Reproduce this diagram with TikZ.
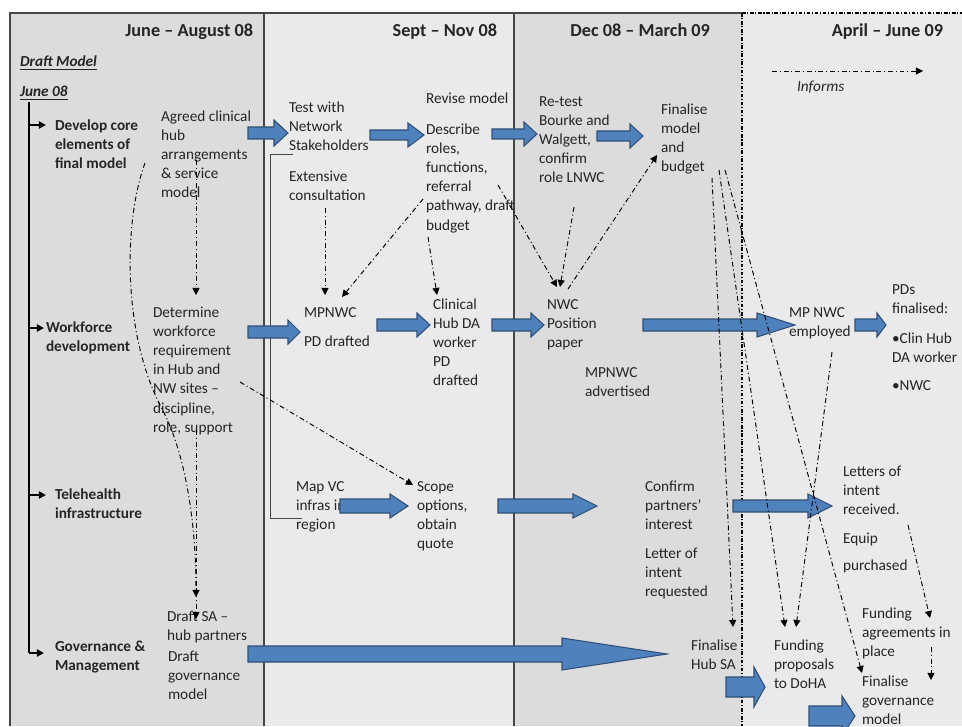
\documentclass[tikz,border=0pt]{standalone}
\usepackage{fontspec}
\setmainfont{Carlito}
\usetikzlibrary{arrows.meta}
\usetikzlibrary{calc}
\definecolor{panedark}{HTML}{DCDCDC}
\definecolor{panelight}{HTML}{EAEAEA}
\definecolor{arrowblue}{HTML}{4F81BD}
\definecolor{arrowedge}{HTML}{2F4F78}
\definecolor{myblack}{HTML}{232527}
\tikzset{every node/.style={inner sep=0pt, outer sep=0pt, align=left, text=myblack, font={\fontsize{8.7}{10.9}\selectfont}}}
% multi-line texts sit on the baseline of their last line: 19.2 per line
\tikzstyle{txt} = [anchor=base west]
\tikzstyle{head} = [anchor=base east, font={\fontsize{10.4}{12}\selectfont\bfseries}]
\tikzstyle{topic} = [anchor=base west, font={\fontsize{8.7}{10.9}\selectfont\bfseries}]
\tikzstyle{informs} = [draw=black, line width=0.55pt, dash pattern=on 2.8pt off 1.6pt on 0.6pt off 1.6pt, -{Triangle[length=4pt,width=4pt]}]
\tikzstyle{tick} = [draw=black, line width=1.1pt, -{Triangle[length=4pt,width=4pt]}]
\tikzstyle{bigarrow} = [fill=arrowblue, draw=arrowedge, line width=0.6pt]
\tikzstyle{border} = [draw=myblack!85, line width=0.6pt]
\tikzstyle{dotborder} = [draw=black, line width=0.6pt, dash pattern=on 2pt off 1pt on 0.6pt off 1pt]

% x1, x2, y, half shaft, half head, head length
\newcommand{\blockarrow}[6]{%
  \draw[bigarrow] (#1,#3-#4) -- (#2-#6,#3-#4) -- (#2-#6,#3-#5) -- (#2,#3)
    -- (#2-#6,#3+#5) -- (#2-#6,#3+#4) -- (#1,#3+#4) -- cycle;}

\begin{document}
\begin{tikzpicture}[x=0.02cm, y=-0.02cm]
    \useasboundingbox (0,0) rectangle (962,726);
    % Panels
    \fill[panedark] (10,13) rectangle (264,726);
    \fill[panelight] (264,13) rectangle (514,726);
    \fill[panedark] (514,13) rectangle (742,726);
    \fill[panelight] (742,13) rectangle (962,726);
    \draw[border] (10,726) -- (10,13) -- (742,13);
    \draw[border] (264,13) -- (264,726);
    \draw[border] (514,13) -- (514,726);
    \draw[dotborder] (742,13) -- (742,726);
    \draw[dotborder] (742,13) -- (962,13);

    % Headers
    \node[head] (hJune) at (253,37) {June – August 08};
    \node[head] (hSept) at (497,37) {Sept – Nov 08};
    \node[head] (hDec) at (710,37) {Dec 08 – March 09};
    \node[head] (hApril) at (943,37) {April – June 09};
    \node[topic] (draftModel) at (20,67) {\textit{\underline{Draft Model}}};
    \node[topic] (june08) at (20,97) {\textit{\underline{June 08}}};

    % Timeline and streams
    \draw[line width=1.2pt] (29,102) -- (29,653);
    \node[topic] (lDevelop) at (55,130+2*19.2) {Develop core\\elements of\\final model};
    \node[topic] (lWork) at (46,332+19.2) {Workforce\\development};
    \node[topic] (lTele) at (55,499+19.2) {Telehealth\\infrastructure};
    \node[topic] (lGov) at (55,651+19.2) {Governance \&\\Management};
    \coordinate (tDevA) at (29,125); \coordinate (tDevB) at (46,125);
    \coordinate (tWorkA) at (29,328); \coordinate (tWorkB) at (44,328);
    \coordinate (tTeleA) at (29,495); \coordinate (tTeleB) at (46,495);
    \coordinate (tGovA) at (29,653); \coordinate (tGovB) at (44,653);
    \draw[tick] (tDevA) -- (tDevB);
    \draw[tick] (tWorkA) -- (tWorkB);
    \draw[tick] (tTeleA) -- (tTeleB);
    \draw[tick] (tGovA) -- (tGovB);

    % June - August
    \node[txt] (agreed) at (161,121+4*19.2) {Agreed clinical\\hub\\arrangements\\\& service\\model};
    \node[txt] (determine) at (153,317+6*19.2) {Determine\\workforce\\requirement\\in Hub and\\NW sites –\\discipline,\\role, support};
    \node[txt] (draftSA) at (167,621+19.2) {Draft SA –\\hub partners};
    \node[txt] (draftGov) at (168,661+2*19.2) {Draft\\governance\\model};

    % Sept - Nov
    \node[txt] (testWith) at (289,112+2*19.2) {Test with\\Network\\Stakeholders};
    \node[txt] (extensive) at (289,181+19.2) {Extensive\\consultation};
    \node[txt] (revise) at (426,104) {Revise model};
    \node[txt] (describe) at (426,134+5*19.2) {Describe\\roles,\\functions,\\referral\\pathway, draft\\budget};
    \node[txt] (mpnwc) at (304,317) {MPNWC};
    \node[txt] (pdDrafted) at (304,346) {PD drafted};
    \node[txt] (clinical) at (433,309+4*19.2) {Clinical\\Hub DA\\worker\\PD\\drafted};
    \node[txt] (mapVC) at (296,491+2*19.2) {Map VC\\infras in\\region};
    \node[txt] (scope) at (417,491+3*19.2) {Scope\\options,\\obtain\\quote};
    \draw[border, line width=0.5pt] (293,154) -- (270,154) -- (270,518) -- (302,518);

    % Dec - March
    \node[txt] (retest) at (539,106+4*19.2) {Re-test\\Bourke and\\Walgett,\\confirm\\role LNWC};
    \node[txt] (finModel) at (661,114+3*19.2) {Finalise\\model\\and\\budget};
    \node[txt] (nwc) at (547,309+2*19.2) {NWC\\Position\\paper};
    \node[txt] (mpAdv) at (585,377+19.2) {MPNWC\\advertised};
    \node[txt] (confirm) at (645,491+2*19.2) {Confirm\\partners’\\interest};
    \node[txt] (letterReq) at (645,558+2*19.2) {Letter of\\intent\\requested};
    \node[txt] (finHub) at (691,650+19.2) {Finalise\\Hub SA};

    % April - June
    \node[txt] (informs) at (797,92) {\textit{Informs}};
    \node[txt] (employed) at (789,317+19.2) {MP NWC\\employed};
    \node[txt] (pds) at (892,294+19.2) {PDs\\finalised:};
    \node[txt] (pdClin) at (892,343+19.2) {•Clin Hub\\DA worker};
    \node[txt] (pdNwc) at (892,390) {•NWC};
    \node[txt] (letters) at (843,476+2*19.2) {Letters of\\intent\\received.};
    \node[txt] (equip) at (843,543) {Equip};
    \node[txt] (purchased) at (843,570) {purchased};
    \node[txt] (fundAgr) at (862,618+2*19.2) {Funding\\agreements in\\place};
    \node[txt] (fundProp) at (774,650+2*19.2) {Funding\\proposals\\to DoHA};
    \node[txt] (finGov) at (862,686+2*19.2) {Finalise\\governance\\model};

    % Block arrows
    \blockarrow{248}{288}{133}{6}{13}{14}
    \blockarrow{370}{424}{135}{5}{12}{16}
    \blockarrow{492}{537}{134}{5}{12}{13}
    \blockarrow{597}{643}{136}{5}{12}{13}
    \blockarrow{248}{300}{332}{6}{12}{12}
    \blockarrow{377}{430}{325}{6}{12}{13}
    \blockarrow{492}{544}{325}{6}{12}{13}
    \blockarrow{643}{795}{325}{6}{12}{38}
    \blockarrow{855}{886}{325}{6}{12}{9}
    \blockarrow{340}{408}{506}{7}{12}{18}
    \blockarrow{498}{597}{506}{7}{12}{24}
    \blockarrow{733}{832}{506}{6}{12}{24}
    \blockarrow{248}{667}{654}{8}{16}{105}
    \blockarrow{726}{765}{687}{10}{20}{11}
    \blockarrow{809}{855}{716}{10}{20}{13}

    % Informs paths
    \coordinate (legA) at (772,71); \coordinate (legB) at (923,71);
    \coordinate (agreedS) at (196,160); \coordinate (determineN) at (196,295);
    \coordinate (extS) at (325,208); \coordinate (mpnwcN) at (325,295);
    \coordinate (descA) at (423,199); \coordinate (mpnwcNE) at (342,297);
    \coordinate (descB) at (428,237); \coordinate (clinN) at (437,295);
    \coordinate (descC) at (498,185); \coordinate (nwcNa) at (557,287);
    \coordinate (retestS) at (574,207); \coordinate (nwcNb) at (560,287);
    \coordinate (nwcNE) at (568,289); \coordinate (finModelSW) at (657,155);
    \coordinate (budgetA) at (712,178); \coordinate (finHubN) at (733,627);
    \coordinate (budgetB) at (719,170); \coordinate (fundPropNa) at (785,627);
    \coordinate (budgetC) at (725,170); \coordinate (finGovN) at (862,673);
    \coordinate (employedS) at (832,352); \coordinate (fundPropNb) at (796,627);
    \coordinate (lettersS) at (908,525); \coordinate (fundAgrN) at (930,618);
    \coordinate (fundAgrS) at (931,647); \coordinate (finGovNE) at (931,680);
    \coordinate (modelW) at (145,163); \coordinate (draftSAN) at (196,597);
    \coordinate (determineS) at (196,430); \coordinate (draftSAmid) at (196,619);
    \coordinate (nwSites) at (240,382); \coordinate (scopeNW) at (413,485);

    \draw[informs] (legA) -- (legB);
    \draw[informs] (agreedS) -- (determineN);
    \draw[informs] (extS) -- (mpnwcN);
    \draw[informs] (descA) -- (mpnwcNE);
    \draw[informs] (descB) -- (clinN);
    \draw[informs] (descC) -- (nwcNa);
    \draw[informs] (retestS) -- (nwcNb);
    \draw[informs] (nwcNE) -- (finModelSW);
    \draw[informs] (budgetA) -- (finHubN);
    \draw[informs] (budgetB) -- (fundPropNa);
    \draw[informs] (budgetC) -- (finGovN);
    \draw[informs] (employedS) -- (fundPropNb);
    \draw[informs] (lettersS) -- (fundAgrN);
    \draw[informs] (fundAgrS) -- (finGovNE);
    \draw[informs] (modelW) .. controls (124,220) and (122,330) .. (160,405)
        .. controls (185,450) and (196,520) .. (draftSAN);
    \draw[informs] (determineS) -- (draftSAmid);
    \draw[informs] (nwSites) -- (scopeNW);
\end{tikzpicture}
\end{document}
